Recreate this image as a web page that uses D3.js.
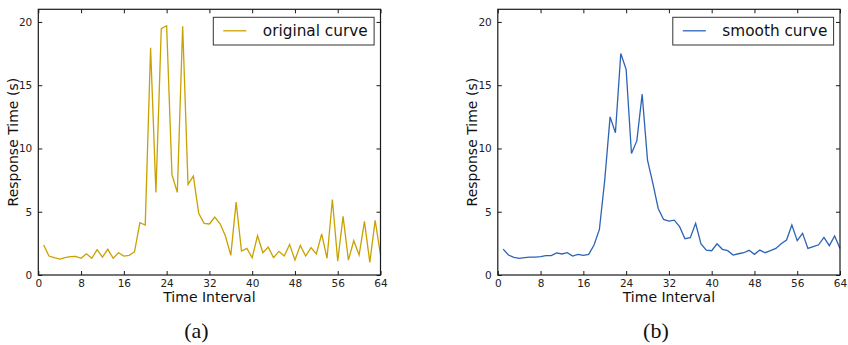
<!DOCTYPE html>
<html>
<head>
<meta charset="utf-8">
<script src="https://cdn.jsdelivr.net/npm/d3@7"></script>
<style>
  html, body { margin: 0; padding: 0; background: #fff; }
  svg { display: block; }
  text { font-family: "DejaVu Sans", sans-serif; }
</style>
</head>
<body>
<svg id="chart" width="848" height="345"></svg>
<script>
// ---- data ----
const timeIntervals = d3.range(1, 65); // 1..64
const originalCurve = [
  2.37, 1.5, 1.37, 1.26, 1.37, 1.45, 1.47, 1.32, 1.68, 1.32,
  2.0, 1.42, 2.03, 1.32, 1.76, 1.5, 1.55, 1.84, 4.13, 3.95,
  17.95, 6.53, 19.47, 19.7, 7.92, 6.53, 19.66, 7.16, 7.82, 4.87,
  4.08, 4.03, 4.58, 4.05, 3.08, 1.55, 5.76, 1.89, 2.1, 1.37,
  3.1, 1.76, 2.2, 1.37, 1.87, 1.5, 2.42, 1.18, 2.34, 1.5,
  2.16, 1.66, 3.24, 1.32, 5.97, 1.1, 4.63, 1.18, 2.71, 1.58,
  4.24, 1.0, 4.32, 1.58
];
const smoothCurve = [
  2.05, 1.58, 1.39, 1.32, 1.37, 1.42, 1.42, 1.45, 1.53, 1.53,
  1.74, 1.66, 1.76, 1.5, 1.63, 1.55, 1.63, 2.37, 3.6, 7.5,
  12.5, 11.24, 17.5, 16.26, 9.6, 10.6, 14.29, 9.08, 7.24, 5.26,
  4.39, 4.26, 4.34, 3.82, 2.87, 2.95, 4.08, 2.45, 1.97, 1.92,
  2.47, 2.03, 1.92, 1.58, 1.68, 1.76, 1.95, 1.63, 1.97, 1.76,
  1.92, 2.1, 2.47, 2.76, 3.95, 2.71, 3.29, 2.1, 2.24, 2.39,
  2.97, 2.32, 3.08, 2.1
];
const xTicks = [0, 8, 16, 24, 32, 40, 48, 56, 64];
const yTicks = [0, 5, 10, 15, 20];
const xDomain = [0, 64];
const yDomain = [0, 21];
const xLabel = "Time Interval";
const yLabel = "Response Time (s)";
const panels = [
  { label: "original curve", caption: "(a)", values: originalCurve, color: "#c9a100" },
  { label: "smooth curve",   caption: "(b)", values: smoothCurve,   color: "#2d63b6" }
];

// ---- layout ----
const svg = d3.select("#chart");
const plotLefts = [38.3, 497.8];
const plotW = 342.2;
const plotTop = 9.3, plotBottom = 275;
const frameColor = "#1a1a1a";
const textColor = "#222";

panels.forEach((p, i) => {
  const left = plotLefts[i], right = left + plotW;
  const x = d3.scaleLinear().domain(xDomain).range([left, right]);
  const y = d3.scaleLinear().domain(yDomain).range([plotBottom, plotTop]);
  const g = svg.append("g");

  // line
  const line = d3.line().x((d, k) => x(timeIntervals[k])).y(d => y(d));
  g.append("path")
    .datum(p.values)
    .attr("d", line)
    .attr("fill", "none")
    .attr("stroke", p.color)
    .attr("stroke-width", 1.3)
    .attr("stroke-linejoin", "miter");

  // axes (inward ticks, all four sides)
  const fmt = d3.format("d");
  const axB = g.append("g").attr("transform", `translate(0,${plotBottom})`)
    .call(d3.axisBottom(x).tickValues(xTicks).tickFormat(fmt).tickSizeInner(-4).tickSizeOuter(0).tickPadding(5));
  const axT = g.append("g").attr("transform", `translate(0,${plotTop})`)
    .call(d3.axisTop(x).tickValues(xTicks).tickFormat("").tickSizeInner(-4).tickSizeOuter(0));
  const axL = g.append("g").attr("transform", `translate(${left},0)`)
    .call(d3.axisLeft(y).tickValues(yTicks).tickFormat(fmt).tickSizeInner(-4).tickSizeOuter(0).tickPadding(6));
  const axR = g.append("g").attr("transform", `translate(${right},0)`)
    .call(d3.axisRight(y).tickValues(yTicks).tickFormat("").tickSizeInner(-4).tickSizeOuter(0));
  [axB, axT, axL, axR].forEach(a => {
    a.select(".domain").remove();
    a.selectAll("line").attr("stroke", frameColor).attr("stroke-width", 1);
    a.selectAll("text").attr("fill", textColor).style("font-size", "10.5px")
      .style("font-family", "'DejaVu Sans', sans-serif");
  });

  // frame
  g.append("rect")
    .attr("x", left).attr("y", plotTop)
    .attr("width", plotW).attr("height", plotBottom - plotTop)
    .attr("fill", "none").attr("stroke", frameColor).attr("stroke-width", 1.2);

  // legend
  const lx = left + 175, ly = 17.3, lw = 160.8, lh = 27.7;
  g.append("rect").attr("x", lx).attr("y", ly).attr("width", lw).attr("height", lh)
    .attr("fill", "#fff").attr("stroke", "#333").attr("stroke-width", 1);
  g.append("line").attr("x1", lx + 10).attr("x2", lx + 33).attr("y1", ly + 13.5).attr("y2", ly + 13.5)
    .attr("stroke", p.color).attr("stroke-width", 1.3);
  g.append("text").attr("x", lx + 49.5).attr("y", ly + 19)
    .attr("fill", "#111").style("font-size", "15.3px").text(p.label);

  // axis labels
  g.append("text").attr("x", (left + right) / 2).attr("y", 301.5)
    .attr("text-anchor", "middle").attr("fill", "#111").style("font-size", "14px").text(xLabel);
  g.append("text")
    .attr("transform", `translate(${left - 20.5},${(plotTop + plotBottom) / 2}) rotate(-90)`)
    .attr("text-anchor", "middle").attr("fill", "#111").style("font-size", "14px").text(yLabel);

  // caption
  g.append("text").attr("x", (left + right) / 2 - 13).attr("y", 338)
    .attr("text-anchor", "middle").attr("fill", "#111")
    .style("font-family", "'Liberation Serif', 'DejaVu Serif', serif").style("font-size", "22px")
    .text(p.caption);
});
</script>
</body>
</html>
